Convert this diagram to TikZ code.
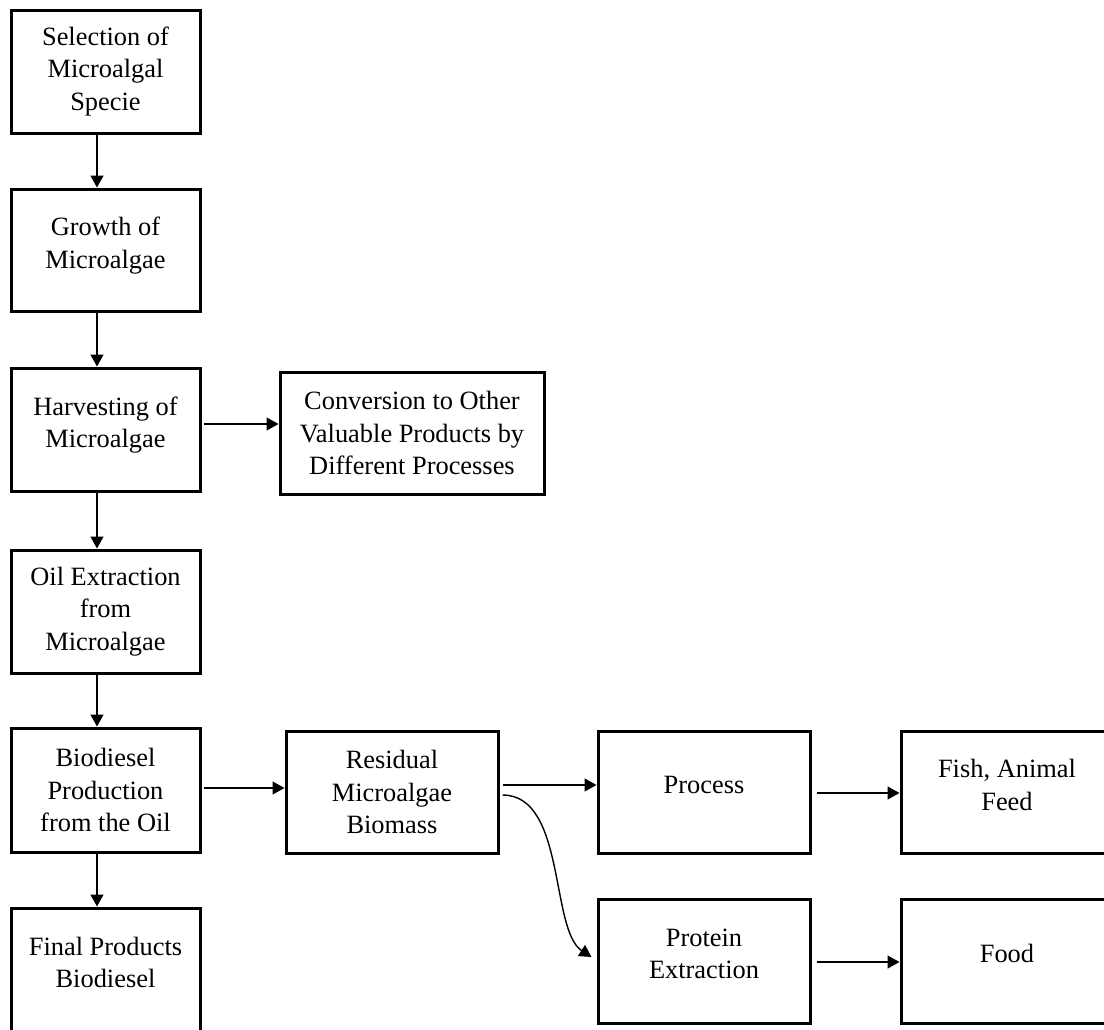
\documentclass[tikz,border=0pt]{standalone}
\usepackage{fontspec}
\setmainfont{Liberation Serif}
\usetikzlibrary{arrows.meta}
\newcommand{\liftup}{\\[-9pt]\mbox{}}

\begin{document}
\begin{tikzpicture}[x=0.5pt, y=-0.5pt,
        stage/.style={draw, line width=1.5pt, align=center, inner sep=2pt, font=\fontsize{13.2}{16.2}\selectfont},
        flow/.style={-{Triangle[length=6pt,width=6.5pt]}, line width=0.7pt}]
            \useasboundingbox (0,0) rectangle (1104,1029);

            \node(select) at (105.5,71.5) [stage, minimum width=94.5pt, minimum height=61.5pt] {Selection of\\Microalgal\\Specie};
            \node(growth) at (105.5,250) [stage, minimum width=94.5pt, minimum height=61pt] {Growth of\\Microalgae\liftup};
            \node(harvest) at (105.5,429.5) [stage, minimum width=94.5pt, minimum height=61.5pt] {Harvesting of\\Microalgae\liftup};
            \node(convert) at (412,433) [stage, minimum width=132pt, minimum height=61pt] {Conversion to Other\\Valuable Products by\\Different Processes};
            \node(oil) at (105.5,611.5) [stage, minimum width=94.5pt, minimum height=61.5pt] {Oil Extraction\\from\\Microalgae};
            \node(biodiesel) at (105.5,790) [stage, minimum width=94.5pt, minimum height=62pt] {Biodiesel\\Production\\from the Oil};
            \node(final) at (105.5,969.5) [stage, minimum width=94.5pt, minimum height=61.5pt] {Final Products\\Biodiesel\liftup};

            \node(residue) at (392,792) [stage, minimum width=106pt, minimum height=61pt] {Residual\\Microalgae\\Biomass};
            \node(process) at (704,792) [stage, minimum width=106pt, minimum height=61pt] {Process\liftup};
            \node(feed) at (1007,792) [stage, minimum width=106pt, minimum height=61pt] {Fish, Animal\\Feed\liftup};
            \node(protein) at (704,961) [stage, minimum width=106pt, minimum height=62pt] {Protein\\Extraction\liftup};
            \node(food) at (1007,961) [stage, minimum width=106pt, minimum height=62pt] {Food\liftup};

            % main column
            \draw[flow] ([xshift=-4.25pt]select.south) -- ([xshift=-4.25pt]growth.north);
            \draw[flow] ([xshift=-4.25pt]growth.south) -- ([xshift=-4.25pt]harvest.north);
            \draw[flow] ([xshift=-4.25pt]harvest.south) -- ([xshift=-4.25pt]oil.north);
            \draw[flow] ([xshift=-4.25pt]oil.south) -- ([xshift=-4.25pt]biodiesel.north);
            \draw[flow] ([xshift=-4.25pt]biodiesel.south) -- ([xshift=-4.25pt]final.north);

            % side branches
            \draw[flow] ([xshift=1pt,yshift=2.75pt]harvest.east) -- ([yshift=4.5pt]convert.west);
            \draw[flow] ([xshift=1pt,yshift=1pt]biodiesel.east) -- ([yshift=2pt]residue.west);
            \draw[flow] ([xshift=1.5pt,yshift=3.5pt]residue.east) -- ([yshift=3.5pt]process.west);
            \draw[flow] ([xshift=1.5pt,yshift=-1.5pt]residue.east) .. controls (566,795) and (550,930) .. ([xshift=-2.5pt,yshift=2pt]protein.west);
            \draw[flow] ([xshift=2.5pt,yshift=-0.5pt]process.east) -- ([yshift=-0.5pt]feed.west);
            \draw[flow] ([xshift=2.5pt,yshift=-0.5pt]protein.east) -- ([yshift=-0.5pt]food.west);
        \end{tikzpicture}
\end{document}
